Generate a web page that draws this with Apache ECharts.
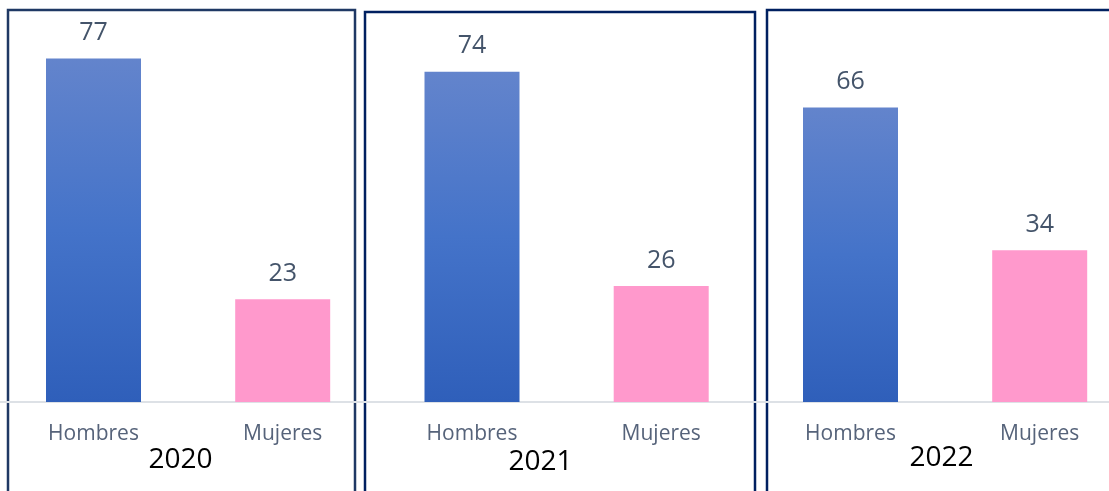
<!DOCTYPE html>
<html>
<head>
<meta charset="utf-8">
<script src="https://cdn.jsdelivr.net/npm/echarts@6/dist/echarts.min.js"></script>
<style>
  html, body { margin: 0; padding: 0; background: #fff; }
  #chart { width: 1109px; height: 491px; }
</style>
</head>
<body>
<div id="chart"></div>
<script>
const categories = ["Hombres", "Mujeres"];
const years = ["2020", "2021", "2022"];
const hombres = [77, 74, 66];
const mujeres = [23, 26, 34];

const FONT = "Open Sans";
const chart = echarts.init(document.getElementById("chart"));

const bandW = 189.2;
const gridLefts = [-1.1, 377.4, 755.9];

const hombresColor = new echarts.graphic.LinearGradient(0, 0, 0, 1, [
  {offset: 0, color: "#6384cc"},
  {offset: 0.5, color: "#4473c9"},
  {offset: 1, color: "#2f5fba"}
]);

const grids = [];
const xAxes = [];
const yAxes = [];
const series = [];
years.forEach((y, i) => {
  grids.push({
    left: gridLefts[i], width: bandW * 2, top: 45, bottom: 89,
    containLabel: false, outerBoundsMode: "none"
  });
  xAxes.push({
    type: "category",
    gridIndex: i,
    data: categories,
    axisLine: {show: true, lineStyle: {color: "#dde1e6", width: 2}},
    axisTick: {show: false},
    axisLabel: {fontFamily: FONT, fontSize: 21, color: "#56637a", margin: 22}
  });
  yAxes.push({
    type: "value",
    gridIndex: i,
    min: 0,
    max: 80,
    show: false,
    splitLine: {show: false}
  });
  series.push({
    type: "bar",
    xAxisIndex: i,
    yAxisIndex: i,
    barWidth: 95,
    data: [
      {value: hombres[i], itemStyle: {color: hombresColor}},
      {value: mujeres[i], itemStyle: {color: "#ff99cc"}}
    ],
    label: {
      show: true,
      position: "top",
      distance: 13,
      fontFamily: FONT,
      fontSize: 25,
      color: "#44546a"
    },
    silent: true,
    animation: false
  });
});

// panel frames and year labels
const frames = [
  {x: 8, y: 10, w: 347, color: "#1f3864"},
  {x: 365, y: 12, w: 390, color: "#002060"},
  {x: 767, y: 10, w: 400, color: "#002060"}
];
const yearPos = [[180.5, 460], [540.5, 462], [941.5, 458]];
const graphic = [];
frames.forEach(f => {
  graphic.push({
    type: "rect",
    shape: {x: f.x, y: f.y, width: f.w, height: 520},
    style: {fill: "none", stroke: f.color, lineWidth: 2.5},
    silent: true
  });
});
years.forEach((y, i) => {
  graphic.push({
    type: "text",
    x: yearPos[i][0],
    y: yearPos[i][1],
    style: {
      text: y,
      fontFamily: FONT,
      fontSize: 28,
      fill: "#000",
      align: "center",
      verticalAlign: "middle"
    },
    silent: true
  });
});

chart.setOption({
  backgroundColor: "#fff",
  animation: false,
  grid: grids,
  xAxis: xAxes,
  yAxis: yAxes,
  series: series,
  graphic: graphic
});
</script>
</body>
</html>
